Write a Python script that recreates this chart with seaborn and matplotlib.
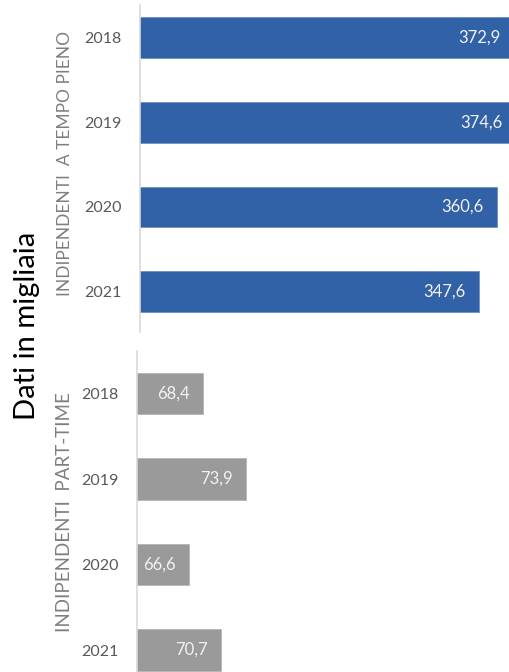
import matplotlib
matplotlib.use("Agg")
import matplotlib.pyplot as plt
import seaborn as sns
import pandas as pd

# Data (thousands)
years = ["2018", "2019", "2020", "2021"]
full_time = [372.9, 374.6, 360.6, 347.6]
part_time = [68.4, 73.9, 66.6, 70.7]
group_full = "INDIPENDENTI  A TEMPO PIENO"
group_part = "INDIPENDENTI  PART-TIME"
axis_title = "Dati in migliaia"

sns.set_theme(style="white")
plt.rcParams["font.family"] = ["Lato", "DejaVu Sans"]

W, H = 510, 672
fig = plt.figure(figsize=(W / 100, H / 100), dpi=100)


def px_axes(left, top, right, bottom):
    return fig.add_axes([left / W, 1 - bottom / H, (right - left) / W, (bottom - top) / H])


ax_top = px_axes(140, -4.9, 523.6, 334.0)
ax_bot = px_axes(137, 350.75, 523.6, 692.75)

df_top = pd.DataFrame({"anno": years, "valore": full_time})
df_bot = pd.DataFrame({"anno": years, "valore": part_time})

panels = [
    (ax_top, df_top, "#3161A7", "#6E8FC6", (100, 380)),
    (ax_bot, df_bot, "#9A9A9A", "#B5B5B5", (60, 109.5)),
]

for ax, df, color, edge, xlim in panels:
    sns.barplot(data=df, y="anno", x="valore", orient="h", color=color,
                width=0.48, edgecolor=edge, linewidth=0.6, saturation=1, ax=ax)
    ax.set_xlim(*xlim)
    ax.set_ylim(3.5, -0.5)
    ax.set_xlabel("")
    ax.set_ylabel("")
    ax.set_xticks([])
    for s in ["top", "right", "bottom"]:
        ax.spines[s].set_visible(False)
    ax.spines["left"].set_color("#D9D9D9")
    ax.spines["left"].set_linewidth(1.2)
    ax.tick_params(axis="y", length=0, pad=13, labelsize=11.5, labelcolor="#595959")
    for i, v in enumerate(df["valore"]):
        ax.annotate(f"{v:.1f}".replace(".", ","), xy=(v, i), xytext=(-9.5, 0),
                    textcoords="offset points", ha="right", va="center",
                    fontsize=12, color="#F2F2F2", annotation_clip=False)

ax_top.spines["left"].set_bounds(3.478, -0.383)

fig.text(65 / W, 1 - 163.5 / H, group_full, rotation=90, ha="center", va="center",
         fontsize=12.5, color="#7F7F7F")
fig.text(65 / W, 1 - 512.5 / H, group_part, rotation=90, ha="center", va="center",
         fontsize=13.5, color="#7F7F7F")
fig.text(27 / W, 1 - 326 / H, axis_title, rotation=90, ha="center", va="center",
         fontsize=21, color="#000000")

fig.savefig("out.png", dpi=100)
